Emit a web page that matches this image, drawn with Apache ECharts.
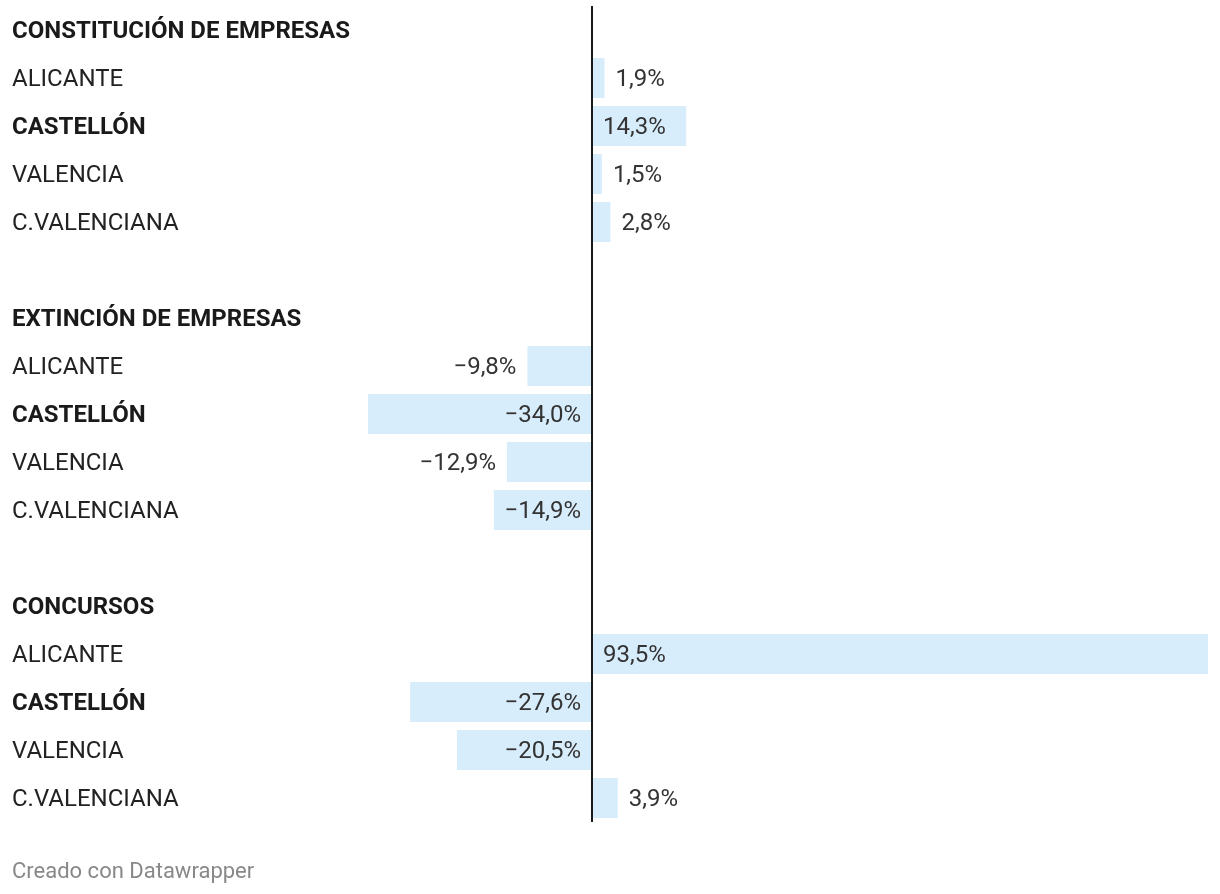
<!DOCTYPE html>
<html>
<head>
<meta charset="utf-8">
<script src="https://cdn.jsdelivr.net/npm/echarts@6/dist/echarts.min.js"></script>
<style>
html,body{margin:0;padding:0;background:#fff;}
#c{width:1220px;height:894px;}
</style>
</head>
<body>
<div id="c"></div>
<script>
var groupTitles = ['CONSTITUCIÓN DE EMPRESAS', 'EXTINCIÓN DE EMPRESAS', 'CONCURSOS'];
var regions = ['ALICANTE', 'CASTELLÓN', 'VALENCIA', 'C.VALENCIANA'];
var constitucion = [1.9, 14.3, 1.5, 2.8];
var extincion = [-9.8, -34.0, -12.9, -14.9];
var concursos = [93.5, -27.6, -20.5, 3.9];
var boldRegion = 'CASTELLÓN';
var footer = 'Creado con Datawrapper';

var groupValues = [constitucion, extincion, concursos];
var categories = [];
var values = [];
var boldFlags = [];
groupTitles.forEach(function (t, g) {
  if (g > 0) { categories.push(''); values.push(null); boldFlags.push(false); }
  categories.push(t); values.push(null); boldFlags.push(true);
  regions.forEach(function (r, i) {
    categories.push(r); values.push(groupValues[g][i]); boldFlags.push(r === boldRegion);
  });
});

function fmt(v) {
  var s = Math.abs(v).toFixed(1).replace('.', ',') + '%';
  return (v < 0 ? '\u2212' : '') + s;
}

var seriesData = values.map(function (v) {
  if (v === null) return { value: null };
  var inside = Math.abs(v) >= 14;
  var pos = v >= 0 ? (inside ? 'insideLeft' : 'right') : (inside ? 'insideRight' : 'left');
  return { value: v, label: { position: pos } };
});

var chart = echarts.init(document.getElementById('c'));
chart.setOption({
  animation: false,
  textStyle: { fontFamily: 'Roboto' },
  title: {
    text: footer, left: 12, top: 861, padding: 0,
    textStyle: { fontFamily: 'Roboto', fontSize: 22, fontWeight: 'normal', color: '#888' }
  },
  grid: { left: 368, right: 12, top: 6, height: 816, containLabel: false },
  xAxis: {
    type: 'value', min: -34, max: 93.5,
    show: false
  },
  yAxis: {
    type: 'category', inverse: true, data: categories,
    axisLine: { show: false }, axisTick: { show: false }, splitLine: { show: false },
    axisLabel: {
      margin: 356, align: 'left', fontSize: 24, color: '#222', fontFamily: 'Roboto',
      padding: [4, 0, 0, 0],
      formatter: function (val, idx) {
        return boldFlags[idx] ? '{b|' + val + '}' : val;
      },
      rich: { b: { fontWeight: 'bold', fontSize: 24, color: '#1a1a1a', fontFamily: 'Roboto' } }
    }
  },
  series: [{
    type: 'bar', data: seriesData, barWidth: 40,
    itemStyle: { color: '#d8edfc' },
    label: {
      show: true, distance: 11, fontSize: 24, color: '#333', fontFamily: 'Roboto',
      offset: [0, 2],
      formatter: function (p) { return p.value == null ? '' : fmt(p.value); }
    },
    markLine: {
      silent: true, symbol: 'none', label: { show: false },
      lineStyle: { color: '#1a1a1a', width: 2, type: 'solid' },
      data: [{ xAxis: 0 }]
    }
  }]
});
</script>
</body>
</html>
